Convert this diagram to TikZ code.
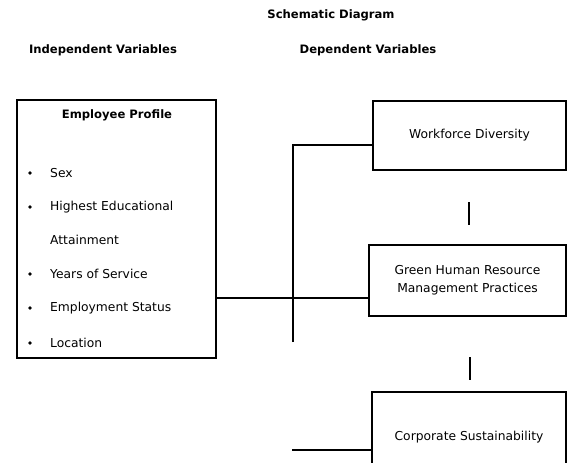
\documentclass[tikz,border=0pt]{standalone}
\usepackage{fontspec}
\setmainfont{DejaVu Sans}
\usetikzlibrary{positioning}

\tikzset{
    varbox/.style={draw, line width=1.3pt, align=center, inner sep=0pt,
        font=\fontsize{12.3}{18}\selectfont},
    heading/.style={font=\bfseries\fontsize{11.6}{14}\selectfont},
    item/.style={anchor=west, inner sep=0pt, font=\fontsize{12.3}{14}\selectfont},
    link/.style={line width=1.3pt}
}

\begin{document}
\begin{tikzpicture}[x=1pt, y=-1pt]
        \useasboundingbox (0,0) rectangle (568,463);
        \clip (0,0) rectangle (568,463);

        % Headings
        \node[heading] (title) at (331,15) {Schematic Diagram};
        \node[heading] (indep) at (103,50) {Independent Variables};
        \node[heading] (dep) at (368,50) {Dependent Variables};

        % Independent variable box
        \node[varbox, minimum width=199pt, minimum height=258pt] (profile) at (116.5,229) {};
        \node[heading] (proftitle) at (117,115) {Employee Profile};
        \foreach \y/\txt in {173/Sex, 207/Highest Educational, 274/Years of Service,
            308/Employment Status, 343/Location} {
            \fill (30,\y) circle (1.8);
            \node[item] at (50,\y) {\txt};
        }
        \node[item] (attain) at (50,240) {Attainment};

        % Dependent variable boxes
        \node[varbox, minimum width=193pt, minimum height=69pt] (wd) at (469.5,135.5) {Workforce Diversity};
        \node[varbox, minimum width=197pt, minimum height=71pt] (ghrm) at (467.5,280.5)
            {Green Human Resource\\Management Practices};
        \node[varbox, minimum width=194pt, minimum height=90pt] (cs) at (469,437) {Corporate Sustainability};

        % Connectors
        \coordinate (forktop) at (293,145);
        \coordinate (forkbot) at (293,342);
        \coordinate (csin) at (292,450);
        \draw[link] (profile.east |- 0,298) -- (ghrm.west |- 0,298);
        \draw[link] (forkbot) -- (forktop) -- (forktop -| wd.west);
        \draw[link] (csin) -- (csin -| cs.west);

        % Short bars between boxes
        \draw[link] (469,202) -- (469,225);
        \draw[link] (470,357) -- (470,380);
\end{tikzpicture}
\end{document}
